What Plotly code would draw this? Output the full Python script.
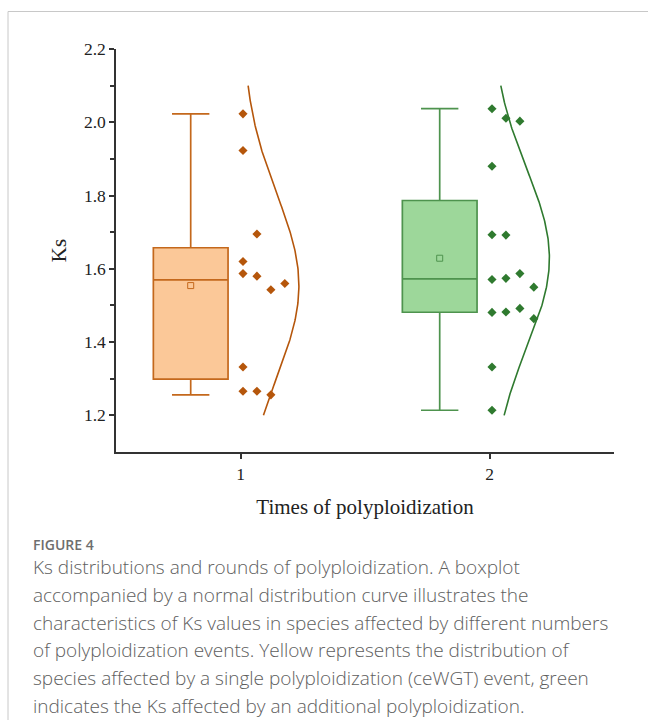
import numpy as np
import plotly.graph_objects as go

# Ks values per group (times of polyploidization)
groups = [1, 2]
ks_once = [2.023, 1.923, 1.620, 1.587, 1.332, 1.266, 1.695, 1.580, 1.266, 1.543, 1.256, 1.560]
ks_twice = [2.037, 1.880, 1.693, 1.571, 1.481, 1.332, 1.214, 2.011, 1.692, 1.574, 1.482,
            2.003, 1.587, 1.492, 1.550, 1.464]
series = [ks_once, ks_twice]

fill_colors = ["#FBC898", "#9DD79A"]
edge_colors = ["#C4681C", "#4E934E"]
dot_colors = ["#B5560B", "#2F7A2F"]

y_ticks = [1.2, 1.4, 1.6, 1.8, 2.0, 2.2]
x_ticks = [1, 2]

BOX_SHIFT = -0.2      # box drawn left of the category
BOX_WIDTH = 0.3
DOT_START = 0.01      # first column of dots / baseline of the curve
DOT_STEP = 0.056      # spacing between dot columns
CURVE_SCALE = 0.1406  # x units per unit of density

fig = go.Figure()

for g, vals, fc, ec, dc in zip(groups, series, fill_colors, edge_colors, dot_colors):
    vals = np.asarray(vals)
    # box
    fig.add_trace(go.Box(
        y=vals, x0=g + BOX_SHIFT, width=BOX_WIDTH, quartilemethod="exclusive",
        boxpoints=False, whiskerwidth=0.5, fillcolor=fc,
        line=dict(color=ec, width=1.7), showlegend=False, hoverinfo="y"))
    # mean marker
    fig.add_trace(go.Scatter(
        x=[g + BOX_SHIFT], y=[vals.mean()], mode="markers",
        marker=dict(symbol="square-open", size=6, color=ec, line=dict(width=1)),
        showlegend=False))
    # dots binned at 0.1 and stacked side by side within a bin
    counts = {}
    xs = []
    for v in vals:
        b = int(np.floor(v * 10 + 1e-9))
        c = counts.get(b, 0)
        counts[b] = c + 1
        xs.append(g + DOT_START + DOT_STEP * c)
    fig.add_trace(go.Scatter(
        x=xs, y=vals, mode="markers",
        marker=dict(symbol="diamond", size=7, color=dc),
        showlegend=False))
    # normal distribution curve
    mu, sd = vals.mean(), vals.std(ddof=1)
    yy = np.linspace(1.2, 2.1, 200)
    pdf = np.exp(-0.5 * ((yy - mu) / sd) ** 2) / (sd * np.sqrt(2 * np.pi))
    fig.add_trace(go.Scatter(
        x=g + DOT_START + CURVE_SCALE * pdf, y=yy, mode="lines",
        line=dict(color=dc, width=1.6), showlegend=False, hoverinfo="skip"))

# plot area in pixels
L, R, T, B = 116, 614, 49, 452
W_PX, H_PX = 648, 720


def px(x):
    return (x - L) / (R - L)


def py(y):
    return (B - y) / (B - T)


serif = "Liberation Serif, Times New Roman, serif"
fig.update_layout(
    width=W_PX, height=H_PX,
    margin=dict(l=L, r=W_PX - R, t=T, b=H_PX - B, pad=0),
    paper_bgcolor="white", plot_bgcolor="white",
    font=dict(family=serif, size=17, color="#222"),
    xaxis=dict(range=[0.5, 2.5], tickvals=x_ticks, ticktext=[str(t) for t in x_ticks],
               showline=True, linecolor="#333", linewidth=1.5, ticks="outside",
               ticklen=5, tickwidth=1.5, tickcolor="#333", showgrid=False, zeroline=False,
               tickfont=dict(family=serif, size=17.5),
               title=dict(text="Times of polyploidization", font=dict(family=serif, size=21),
                          standoff=17)),
    yaxis=dict(range=[1.1, 2.2], tickvals=y_ticks, ticktext=[f"{t:.1f}" for t in y_ticks],
               showline=True, linecolor="#333", linewidth=1.5, ticks="outside",
               ticklen=5, tickwidth=1.5, tickcolor="#333", showgrid=False, zeroline=False,
               minor=dict(tickvals=[1.3, 1.5, 1.7, 1.9, 2.1], ticks="outside", ticklen=4,
                          tickwidth=1.5, tickcolor="#333", showgrid=False),
               tickfont=dict(family=serif, size=17.5),
               title=dict(text="Ks", font=dict(family=serif, size=21), standoff=12)),
)

# card frame
frame = "#C8C8C8"
fig.add_shape(type="line", xref="paper", yref="paper", x0=px(8), x1=px(660),
              y0=py(11.5), y1=py(11.5), line=dict(color=frame, width=1))
fig.add_shape(type="line", xref="paper", yref="paper", x0=px(8), x1=px(8),
              y0=py(11.5), y1=py(730), line=dict(color=frame, width=1))

# caption
sans = "Open Sans, Noto Sans, sans-serif"
fig.add_annotation(xref="paper", yref="paper", x=px(31), y=py(544), xanchor="left",
                   yanchor="middle", showarrow=False, text="FIGURE 4",
                   font=dict(family=sans, size=14, color="#6E6E6E", weight=600))
caption = [
    "Ks distributions and rounds of polyploidization. A boxplot",
    "accompanied by a normal distribution curve illustrates the",
    "characteristics of Ks values in species affected by different numbers",
    "of polyploidization events. Yellow represents the distribution of",
    "species affected by a single polyploidization (ceWGT) event, green",
    "indicates the Ks affected by an additional polyploidization.",
]
for i, line in enumerate(caption):
    fig.add_annotation(xref="paper", yref="paper", x=px(31), y=py(567 + 27.8 * i),
                       xanchor="left", yanchor="middle", showarrow=False, text=line,
                       font=dict(family=sans, size=19, color="#5E5E5E", weight=300))

fig.write_html("out.html")
